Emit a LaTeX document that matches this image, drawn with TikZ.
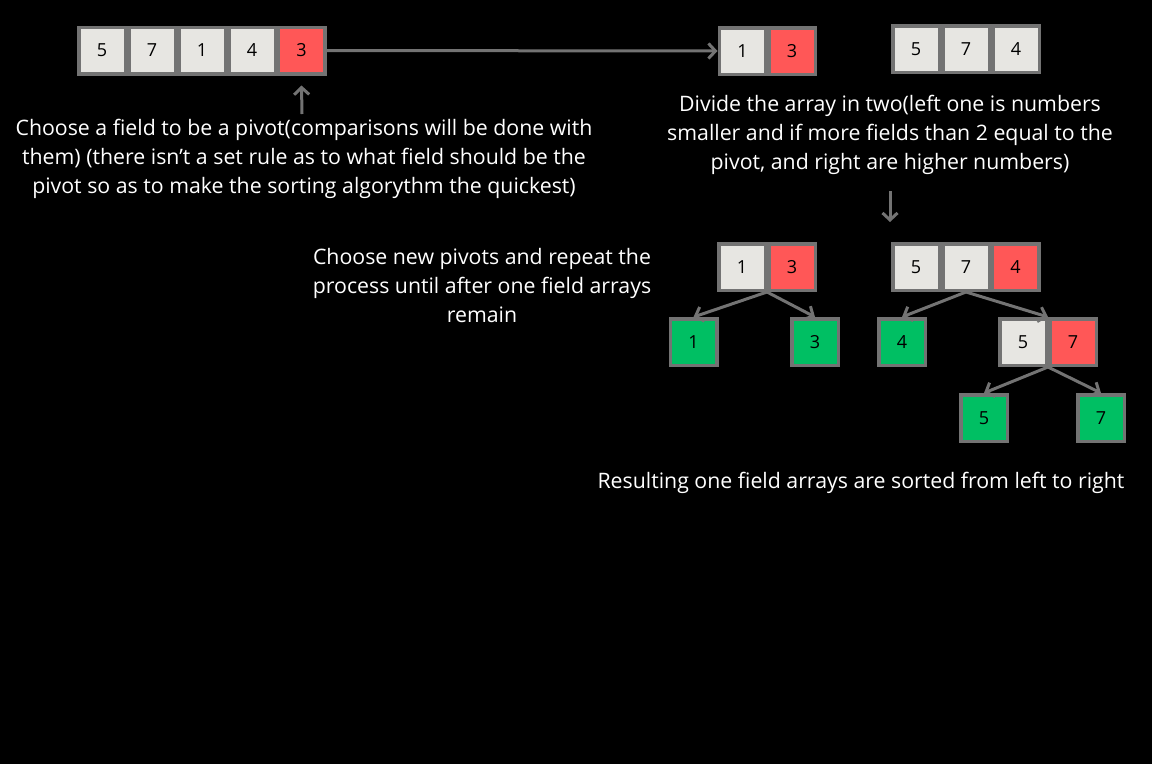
\documentclass[tikz,border=0pt]{standalone}
\usepackage{fontspec}
\setmainfont{Open Sans}
\usetikzlibrary{arrows.meta}
\definecolor{cellgray}{HTML}{737373}
\definecolor{celllight}{HTML}{E7E6E2}
\definecolor{cellred}{HTML}{FF5757}
\definecolor{cellgreen}{HTML}{00BF63}
\tikzset{
  cell/.style={draw=cellgray, line width=3.5pt, minimum size=46.5pt, inner sep=0pt,
    font=\fontsize{18}{20}\selectfont, text=black},
  lite/.style={cell, fill=celllight},
  redc/.style={cell, fill=cellred},
  greenc/.style={cell, fill=cellgreen},
  note/.style={text=white, align=center, inner sep=0pt, font=\fontsize{21.3}{29}\selectfont},
  conn/.style={draw=cellgray, line width=3pt, -{Straight Barb[length=7pt,width=15pt,line width=3pt]}}
}
\begin{document}
\begin{tikzpicture}[x=1pt,y=-1pt]
\fill[black] (0,0) rectangle (1152,764);
\useasboundingbox (0,0) rectangle (1152,764);
% top array
\node[lite] (a1) at (102,50.5) {5};
\node[lite] (a2) at (152,50.5) {7};
\node[lite] (a3) at (202,50.5) {1};
\node[lite] (a4) at (252,50.5) {4};
\node[redc] (a5) at (301.5,50.5) {3};
% split arrays
\node[lite] (b1) at (742.5,51) {1};
\node[redc] (b2) at (792,51) {3};
\node[lite] (c1) at (916,49) {5};
\node[lite] (c2) at (966,49) {7};
\node[lite] (c3) at (1016,49) {4};
\draw[conn] (a5.east) -- (b1.west);
% texts
\node[note] (t1) at (304,159) {Choose a field to be a pivot(comparisons will be done with\\them) (there isn’t a set rule as to what field should be the\\pivot so as to make the sorting algorythm the quickest)};
\coordinate (up1) at (302,114);
\draw[conn] (up1) -- ([yshift=-10pt]a5.south);
\node[note] (t2) at (890,135) {Divide the array in two(left one is numbers\\smaller and if more fields than 2 equal to the\\pivot, and right are higher numbers)};
\coordinate (dn1) at (890,191);
\coordinate (dn2) at (890,222);
\draw[conn] (dn1) -- (dn2);
\node[note] (t3) at (482,286) {Choose new pivots and repeat the\\process until after one field arrays\\remain};
% tree
\node[lite] (d1) at (742,267) {1};
\node[redc] (d2) at (792,267) {3};
\node[lite] (e1) at (916,267) {5};
\node[lite] (e2) at (966,267) {7};
\node[redc] (e3) at (1015.5,267) {4};
\node[greenc] (g1) at (693.5,342) {1};
\node[greenc] (g3) at (815,342) {3};
\node[greenc] (g4) at (902,342) {4};
\node[lite] (f1) at (1023,342) {5};
\node[redc] (f2) at (1073,342) {7};
\node[greenc] (g5) at (984,418) {5};
\node[greenc] (g7) at (1101,418) {7};
\coordinate (jd) at (767,292);
\coordinate (je) at (966,292);
\coordinate (jf) at (1048,367);
\draw[conn] (jd) -- (g1.north);
\draw[conn] (jd) -- (g3.north);
\draw[conn] (je) -- (g4.north);
\draw[conn] (je) -- (f1.north east);
\draw[conn] (jf) -- (g5.north);
\draw[conn] (jf) -- (g7.north);
\node[note] (t4) at (861,483) {Resulting one field arrays are sorted from left to right};
\end{tikzpicture}
\end{document}
